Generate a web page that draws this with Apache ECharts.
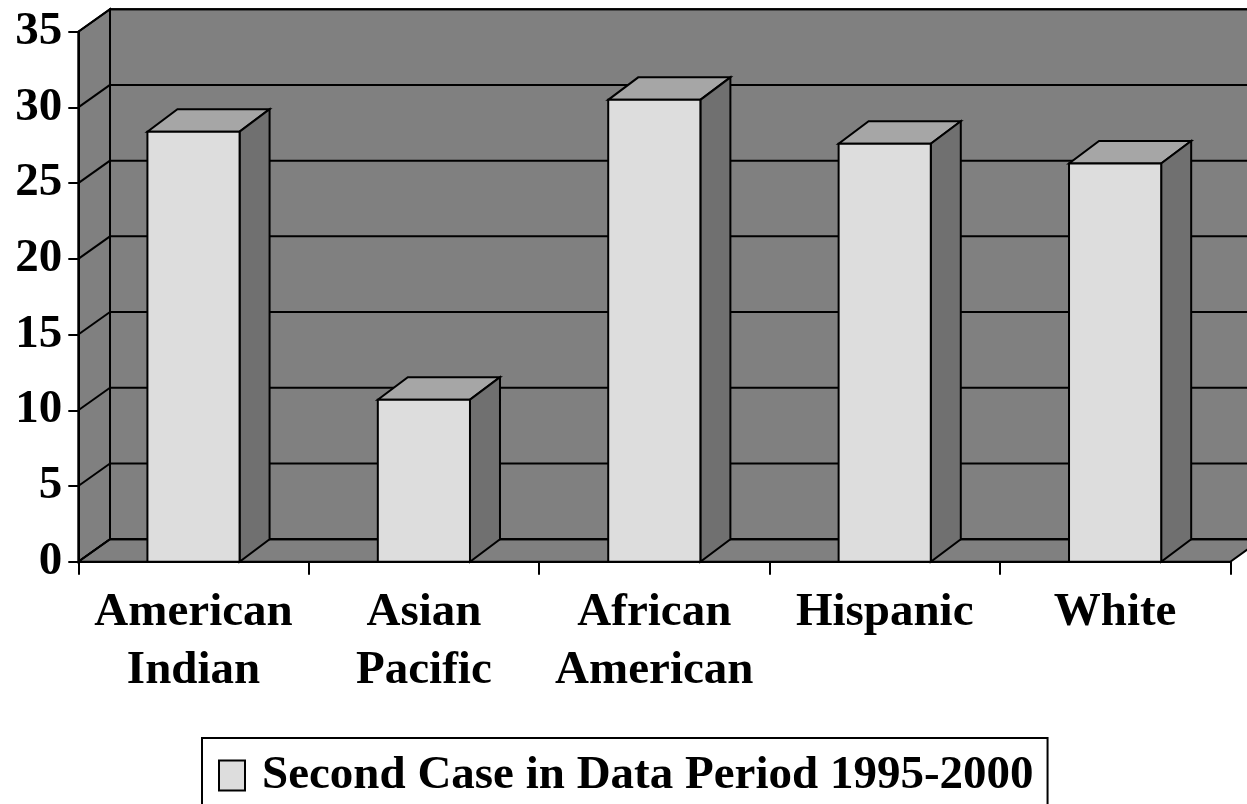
<!DOCTYPE html>
<html>
<head>
<meta charset="utf-8">
<script src="https://cdn.jsdelivr.net/npm/echarts@6/dist/echarts.min.js"></script>
<style>
html,body{margin:0;padding:0;background:#fff;}
#chart{width:1247px;height:804px;}
</style>
</head>
<body>
<div id="chart"></div>
<script>
// ---- data ----
const categories = ['American\nIndian', 'Asian\nPacific', 'African\nAmerican', 'Hispanic', 'White'];
const values = [28.4, 10.7, 30.5, 27.6, 26.3];
const yTicks = [0, 5, 10, 15, 20, 25, 30, 35];
const seriesName = 'Second Case in Data Period 1995-2000';

// ---- style constants ----
const Y_MIN = 0, Y_MAX = 35, Y_STEP = 5;
const WALL_DX = 31.7, WALL_DY = 22.5;
const BAR_DX = 30, BAR_DY = 22.5;
const BAR_FRAC = 0.4;
const FONT = '"Liberation Serif", "Times New Roman", serif';
const LINE = { stroke: '#000', lineWidth: 2 };

function frame(api) {
  const p0 = api.coord([0, Y_MIN]);
  const band = api.size([1, 0])[0];
  const x0 = p0[0] - band / 2;
  const x1 = x0 + band * categories.length;
  const yb = p0[1];
  const yt = api.coord([0, Y_MAX])[1];
  return { x0, x1, yb, yt, band };
}

function renderWalls(params, api) {
  const f = frame(api);
  const far = f.x1 + WALL_DX + 400;
  const fill = '#808080';
  return {
    type: 'group',
    children: [
      { type: 'polygon', shape: { points: [[f.x0 + WALL_DX, f.yt - WALL_DY], [far, f.yt - WALL_DY], [far, f.yb - WALL_DY], [f.x0 + WALL_DX, f.yb - WALL_DY]] },
        style: Object.assign({ fill }, LINE) },
      { type: 'polygon', shape: { points: [[f.x0, f.yb], [f.x0, f.yt], [f.x0 + WALL_DX, f.yt - WALL_DY], [f.x0 + WALL_DX, f.yb - WALL_DY]] },
        style: Object.assign({ fill }, LINE) },
      { type: 'polygon', shape: { points: [[f.x0, f.yb], [f.x1, f.yb], [f.x1 + WALL_DX, f.yb - WALL_DY], [f.x0 + WALL_DX, f.yb - WALL_DY]] },
        style: Object.assign({ fill }, LINE) }
    ]
  };
}

function renderGrid(params, api) {
  const f = frame(api);
  const y = api.coord([0, api.value(0)])[1];
  const far = f.x1 + WALL_DX + 400;
  return {
    type: 'group',
    children: [
      { type: 'line', shape: { x1: f.x0 + WALL_DX, y1: y - WALL_DY, x2: far, y2: y - WALL_DY }, style: LINE },
      { type: 'line', shape: { x1: f.x0, y1: y, x2: f.x0 + WALL_DX, y2: y - WALL_DY }, style: LINE }
    ]
  };
}

function renderBar(params, api) {
  const band = api.size([1, 0])[0];
  const top = api.coord([api.value(0), api.value(1)]);
  const base = api.coord([api.value(0), Y_MIN]);
  const w = band * BAR_FRAC;
  const xl = top[0] - w / 2, xr = top[0] + w / 2;
  const yt = top[1], yb = base[1];
  return {
    type: 'group',
    children: [
      { type: 'polygon', shape: { points: [[xl, yt], [xr, yt], [xr + BAR_DX, yt - BAR_DY], [xl + BAR_DX, yt - BAR_DY]] },
        style: Object.assign({ fill: '#a6a6a6', lineJoin: 'miter' }, LINE) },
      { type: 'polygon', shape: { points: [[xr, yt], [xr, yb], [xr + BAR_DX, yb - BAR_DY], [xr + BAR_DX, yt - BAR_DY]] },
        style: Object.assign({ fill: '#707070', lineJoin: 'miter' }, LINE) },
      { type: 'rect', shape: { x: xl, y: yt, width: w, height: yb - yt },
        style: Object.assign({ fill: '#dddddd' }, LINE) }
    ]
  };
}

const chart = echarts.init(document.getElementById('chart'), null, { renderer: 'canvas' });
chart.setOption({
  backgroundColor: '#ffffff',
  animation: false,
  grid: { left: 78.3, right: 16.7, top: 31.7, bottom: 242.3, containLabel: false, outerBoundsMode: 'none' },
  xAxis: {
    type: 'category',
    data: categories,
    z: 10,
    axisLine: { show: true, lineStyle: { color: '#000', width: 2 } },
    axisTick: { show: true, length: 13, lineStyle: { color: '#000', width: 2 } },
    axisLabel: { show: true, interval: 0, margin: 22, color: '#000', fontFamily: FONT, fontWeight: 'bold', fontSize: 47, lineHeight: 58, align: 'center' },
    splitLine: { show: false }
  },
  yAxis: {
    type: 'value',
    min: Y_MIN, max: Y_MAX, interval: Y_STEP,
    z: 10,
    axisLine: { show: true, lineStyle: { color: '#000', width: 2 } },
    axisTick: { show: true, length: 10, lineStyle: { color: '#000', width: 2 } },
    axisLabel: { show: true, margin: 16, color: '#000', fontFamily: FONT, fontWeight: 'bold', fontSize: 47 },
    splitLine: { show: false }
  },
  legend: {
    show: true,
    left: 202, top: 738,
    padding: [14, 14, 14, 16],
    backgroundColor: '#fff',
    borderColor: '#000', borderWidth: 2, borderRadius: 0,
    itemWidth: 26, itemHeight: 30,
    textStyle: { color: '#000', fontFamily: FONT, fontWeight: 'bold', fontSize: 47, padding: [0, 0, 0, 12] },
    data: [{ name: seriesName, icon: 'rect', itemStyle: { color: '#dddddd', borderColor: '#000', borderWidth: 2 } }]
  },
  series: [
    { type: 'custom', name: '_walls', z: 1, silent: true, renderItem: renderWalls, data: [[0, 0]], encode: { x: 0, y: 1 } },
    { type: 'custom', name: '_grid', z: 2, silent: true, renderItem: renderGrid, data: yTicks.map(v => [v]), encode: { y: 0 } },
    { type: 'custom', name: seriesName, z: 3, renderItem: renderBar, itemStyle: { color: '#dddddd', borderColor: '#000' },
      data: values.map((v, i) => [i, v]), encode: { x: 0, y: 1 } }
  ]
});
</script>
</body>
</html>
